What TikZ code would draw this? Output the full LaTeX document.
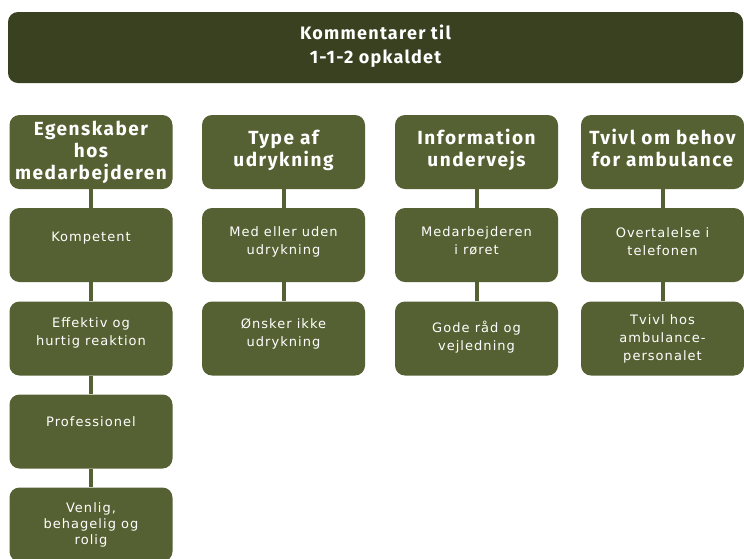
\documentclass[tikz,border=0pt]{standalone}
\usepackage{fontspec}
\setmainfont{DejaVu Sans}
\newfontfamily\titlefont{Fira Sans}[LetterSpace=7]
\newfontfamily\headfont{Fira Sans}[LetterSpace=8]
\newfontfamily\bodyfont{DejaVu Sans}[LetterSpace=8]
\definecolor{darkolive}{HTML}{3A4120}
\definecolor{olive}{HTML}{566133}
\begin{document}
\begin{tikzpicture}[x=1pt,y=-1pt,
  box/.style={rounded corners=10pt, inner sep=0pt, text=white, align=center},
  titlebox/.style={box, fill=darkolive, minimum width=735pt, minimum height=71pt,
    font=\titlefont\bfseries\fontsize{18}{24}\selectfont},
  catbox/.style={box, fill=olive, minimum width=163pt, minimum height=74pt,
    font=\headfont\bfseries\fontsize{19}{22}\selectfont},
  itembox/.style={box, fill=olive, minimum width=163pt, minimum height=74pt,
    font=\bodyfont\fontsize{13}{18}\selectfont},
  link/.style={draw=olive, line width=4pt}
]
\useasboundingbox (0,0) rectangle (744,558);
\fill[white] (0,0) rectangle (744,558);

\node[titlebox] (title) at (375.5,47.5) {Kommentarer til\\1-1-2 opkaldet\\[-18pt]\mbox{}};

\node[catbox] (c1) at (91,152) {Egenskaber\\hos\\medarbejderen};
\node[catbox] (c2) at (283.5,152) {Type af\\udrykning\\[-14pt]\mbox{}};
\node[catbox] (c3) at (476.5,152) {Information\\undervejs\\[-14pt]\mbox{}};
\node[catbox] (c4) at (662.5,152) {Tvivl om behov\\for ambulance\\[-14pt]\mbox{}};

\node[itembox] (a1) at (91,245) {Kompetent\\[-2pt]\mbox{}};
\node[itembox] (a2) at (91,338.5) {Effektiv og\\hurtig reaktion\\[-4pt]\mbox{}};
\node[itembox] (a3) at (91,431.5) {Professionel\\[2pt]\mbox{}};
\node[itembox] (a4) at (91,524.5) {Venlig,\\[-2pt]behagelig og\\[-2pt]rolig};

\node[itembox] (b1) at (283.5,245) {Med eller uden\\udrykning\\[-10pt]\mbox{}};
\node[itembox] (b2) at (283.5,338.5) {Ønsker ikke\\udrykning\\[-7pt]\mbox{}};

\node[itembox] (d1) at (476.5,245) {Medarbejderen\\i røret\\[-10pt]\mbox{}};
\node[itembox] (d2) at (476.5,338.5) {Gode råd og\\vejledning\\[-13pt]\mbox{}};

\node[itembox] (e1) at (662.5,245) {Overtalelse i\\telefonen\\[-12pt]\mbox{}};
\node[itembox] (e2) at (662.5,338.5) {Tvivl hos\\ambulance-\\personalet};

\draw[link] (c1.south) -- (a1.north);
\draw[link] (a1.south) -- (a2.north);
\draw[link] (a2.south) -- (a3.north);
\draw[link] (a3.south) -- (a4.north);
\draw[link] (c2.south) -- (b1.north);
\draw[link] (b1.south) -- (b2.north);
\draw[link] (c3.south) -- (d1.north);
\draw[link] (d1.south) -- (d2.north);
\draw[link] (c4.south) -- (e1.north);
\draw[link] (e1.south) -- (e2.north);
\end{tikzpicture}
\end{document}
